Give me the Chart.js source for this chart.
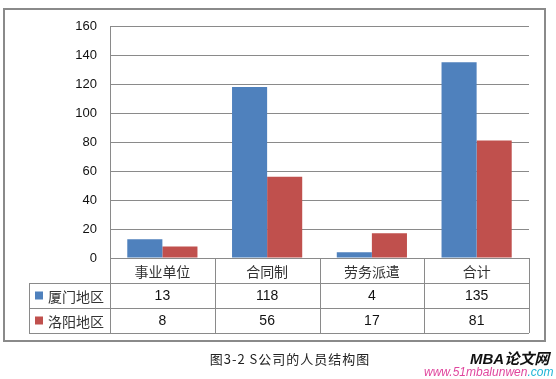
<!DOCTYPE html>
<html><head><meta charset="utf-8">
<script src="https://cdn.jsdelivr.net/npm/chart.js@4.4.0/dist/chart.umd.min.js"></script>
<style>
html,body{margin:0;padding:0;background:#fff;width:556px;height:379px;overflow:hidden;position:relative;}
#c{position:absolute;left:0;top:0;}
#box{position:absolute;left:3px;top:8px;width:539px;height:330px;border:2px solid #8a8a8a;pointer-events:none;}
#cap{position:absolute;left:150px;width:280px;top:349px;text-align:center;font:13px "Noto Sans CJK SC",sans-serif;color:#222;letter-spacing:1px;}
#wm1{position:absolute;left:470px;top:347px;font:italic bold 15px "Liberation Sans","Noto Sans CJK SC",sans-serif;color:#111;}
#wm2{position:absolute;left:424px;top:365px;font:italic 12px "Liberation Sans",sans-serif;color:#e0479e;}
#wm2 span{color:#1fb5d6;}
</style></head><body>
<canvas id="c" width="556" height="379"></canvas>
<div id="box"></div>
<div id="cap">图3-2 S公司的人员结构图</div>
<div id="wm1">MBA论文网</div>
<div id="wm2">www.51mbalunwen<span>.com</span></div>
<script>
const categories = ["事业单位", "合同制", "劳务派遣", "合计"];
const seriesNames = ["厦门地区", "洛阳地区"];
const xiamen = [13, 118, 4, 135];
const luoyang = [8, 56, 17, 81];
const colors = ["#4F81BD", "#C0504D"];

const tablePlugin = {
  id: 'dataTable',
  afterDraw(chart) {
    const ctx = chart.ctx, ca = chart.chartArea, xs = chart.scales.x;
    const n = categories.length;
    const cw = (ca.right - ca.left) / n;
    const rowH = 25;
    const top = ca.bottom;
    const legL = 29;
    const data = [xiamen, luoyang];
    ctx.save();
    ctx.strokeStyle = '#8a8a8a';
    ctx.lineWidth = 1;
    ctx.beginPath();
    // horizontal lines
    ctx.moveTo(ca.left, top + 0.5); ctx.lineTo(ca.right, top + 0.5);
    for (let r = 1; r <= 3; r++) {
      const y = Math.round(top + r * rowH) + 0.5;
      ctx.moveTo(legL, y); ctx.lineTo(ca.right, y);
    }
    // verticals
    ctx.moveTo(legL + 0.5, top + rowH); ctx.lineTo(legL + 0.5, top + 3 * rowH);
    for (let i = 0; i <= n; i++) {
      const x = Math.round(ca.left + i * cw) + 0.5;
      ctx.moveTo(x, top); ctx.lineTo(x, top + 3 * rowH);
    }
    ctx.stroke();
    ctx.textAlign = 'center';
    ctx.textBaseline = 'middle';
    ctx.fillStyle = '#333';
    ctx.font = '14px "Noto Sans CJK SC", sans-serif';
    categories.forEach((c, i) => {
      ctx.fillText(c, xs.getPixelForValue(i), top + rowH / 2 + 1);
    });
    ctx.font = '14px "Liberation Sans", sans-serif';
    ctx.fillStyle = '#111';
    data.forEach((arr, r) => {
      arr.forEach((v, i) => {
        ctx.fillText(String(v), xs.getPixelForValue(i), top + rowH * (r + 1.5) + 1);
      });
    });
    seriesNames.forEach((s, r) => {
      const yc = top + rowH * (r + 1.5);
      ctx.fillStyle = colors[r];
      ctx.fillRect(35, yc - 4, 8, 8);
      ctx.fillStyle = '#333';
      ctx.textAlign = 'left';
      ctx.font = '14px "Noto Sans CJK SC", sans-serif';
      ctx.fillText(s, 48, yc + 1);
    });
    ctx.restore();
  }
};

new Chart(document.getElementById('c'), {
  type: 'bar',
  data: {
    labels: categories,
    datasets: [
      { label: seriesNames[0], data: xiamen, backgroundColor: colors[0], barPercentage: 1, categoryPercentage: 0.67 },
      { label: seriesNames[1], data: luoyang, backgroundColor: colors[1], barPercentage: 1, categoryPercentage: 0.67 }
    ]
  },
  options: {
    responsive: false,
    animation: false,
    layout: { padding: { left: 0, right: 27, top: 26, bottom: 121 } },
    plugins: { legend: { display: false }, tooltip: { enabled: false } },
    scales: {
      x: { display: false, grid: { display: false } },
      y: {
        min: 0, max: 160,
        ticks: { stepSize: 20, padding: 13, color: '#111', font: { family: '"Liberation Sans", sans-serif', size: 13 } },
        grid: { color: '#8a8a8a', drawTicks: false },
        border: { display: true, color: '#8a8a8a' },
        afterFit: s => { s.width = 110; }
      }
    }
  },
  plugins: [tablePlugin]
});
</script>
</body></html>
